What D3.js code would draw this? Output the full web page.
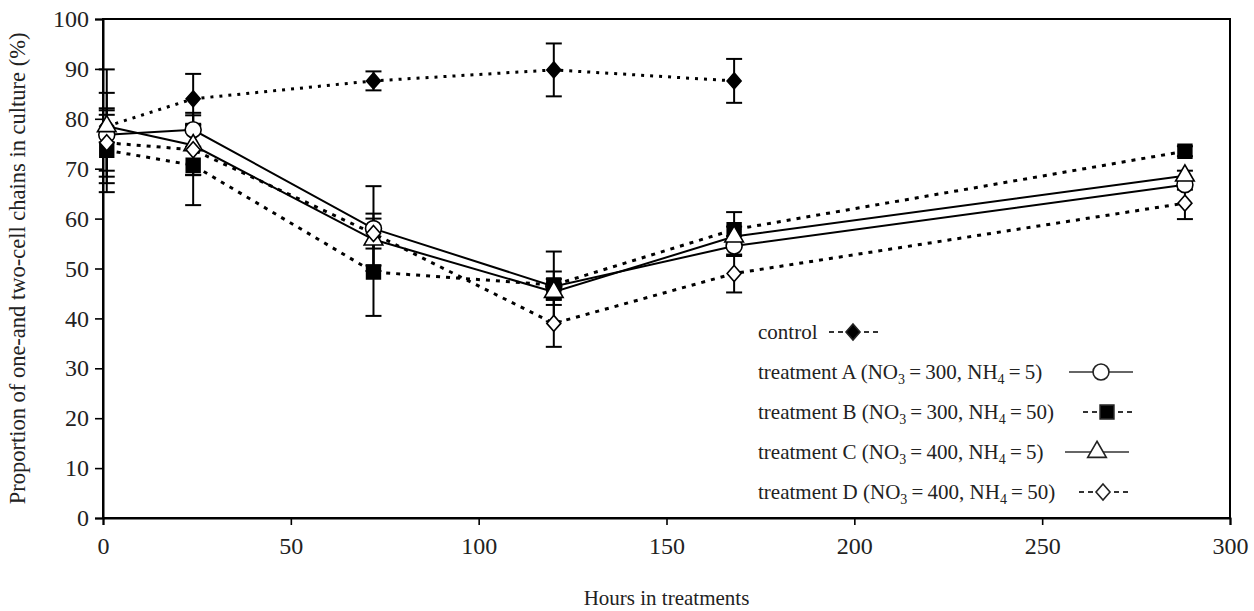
<!DOCTYPE html>
<html>
<head>
<meta charset="utf-8">
<script src="https://cdn.jsdelivr.net/npm/d3@7"></script>
<style>
  body { margin: 0; background: #fff; }
  svg { display: block; font-family: "Liberation Serif", "Times New Roman", serif; }
</style>
</head>
<body>
<svg id="svg"></svg>
<script>
// data
const hours = [1, 24, 72, 120, 168, 288]
const controlHours = [1, 24, 72, 120, 168]
const controlMean = [78.5, 84, 87.6, 89.8, 87.6]
const controlErr = [3.2, 5, 1.9, 5.3, 4.4]
const meanA = [76.8, 77.8, 58, 46.4, 54.5, 66.8]
const errA = [8.4, 3.4, 8.5, 7, 2, 1]
const meanB = [73.7, 70.7, 49.3, 46.7, 57.8, 73.5]
const errB = [8.4, 8, 8.8, 2.7, 3.5, 1]
const meanC = [78.5, 74.7, 55.8, 45.3, 56.4, 68.6]
const errC = [11.4, 6, 5.2, 2.6, 2, 1]
const meanD = [75.2, 73.8, 57, 39, 49, 63.1]
const errD = [5.6, 5, 3, 4.7, 3.8, 3.2]

const xTicks = [0, 50, 100, 150, 200, 250, 300]
const yTicks = [0, 10, 20, 30, 40, 50, 60, 70, 80, 90, 100]

const legendNames = ['control', 'treatment A', 'treatment B', 'treatment C', 'treatment D']
const legendNO3 = [null, '300', '300', '400', '400']
const legendNH4 = [null, '5', '50', '5', '50']

let w = 1254
let h = 611
let margin = {top: 19, right: 24, bottom: 93, left: 103}
let serif = '"Liberation Serif", "Times New Roman", serif'

let svg = d3.select('#svg').attr('width', w).attr('height', h)

let scaleX = d3.scaleLinear().domain([0, 300]).range([margin.left, w - margin.right])
let scaleY = d3.scaleLinear().domain([0, 100]).range([h - margin.bottom, margin.top])

// series table built from the arrays
const series = [
  {name: 'control', x: controlHours, y: controlMean, e: controlErr, sym: 'diamond', fill: '#000', dash: '3,6'},
  {name: 'A', x: hours, y: meanA, e: errA, sym: 'circle', fill: '#fff', dash: null},
  {name: 'B', x: hours, y: meanB, e: errB, sym: 'square', fill: '#000', dash: '4,6'},
  {name: 'C', x: hours, y: meanC, e: errC, sym: 'triangle', fill: '#fff', dash: null},
  {name: 'D', x: hours, y: meanD, e: errD, sym: 'diamond', fill: '#fff', dash: '4,6'}
]
series.forEach(s => { s.pts = s.x.map((hx, i) => ({x: hx, y: s.y[i], e: s.e[i]})) })

// frame
svg.append('rect')
  .attr('x', scaleX(0)).attr('y', scaleY(100))
  .attr('width', scaleX(300) - scaleX(0)).attr('height', scaleY(0) - scaleY(100))
  .attr('fill', 'none').attr('stroke', '#000').attr('stroke-width', 2)

let xAxis = svg.append('g')
  .attr('transform', `translate(0,${scaleY(0)})`)
  .call(d3.axisBottom(scaleX).tickValues(xTicks).tickSize(7).tickPadding(12))
let yAxis = svg.append('g')
  .attr('transform', `translate(${scaleX(0)},0)`)
  .call(d3.axisLeft(scaleY).tickValues(yTicks).tickSize(8).tickPadding(6))

;[xAxis, yAxis].forEach(ax => {
  ax.attr('font-family', serif)
  ax.select('.domain').attr('stroke-width', 2)
  ax.selectAll('.tick line').attr('stroke-width', 1.6)
  ax.selectAll('.tick text')
    .style('font-family', serif)
    .attr('font-size', 24).attr('fill', '#222')
})

svg.append('text')
  .attr('x', (scaleX(0) + scaleX(300)) / 2).attr('y', 605)
  .attr('text-anchor', 'middle').attr('font-size', 21).attr('fill', '#222')
  .style('font-family', serif)
  .text('Hours in treatments')

svg.append('text')
  .attr('transform', `translate(25,${(scaleY(0) + scaleY(100)) / 2}) rotate(-90)`)
  .attr('text-anchor', 'middle').attr('font-size', 22.5).attr('fill', '#222')
  .style('font-family', serif)
  .text('Proportion of one-and two-cell chains in culture (%)')

const symbolPath = (sym) => {
  if (sym === 'circle') return d3.symbol(d3.symbolCircle, 200)()
  if (sym === 'square') return d3.symbol(d3.symbolSquare, 190)()
  if (sym === 'triangle') return d3.symbol(d3.symbolTriangle, 150)()
  return 'M0,-8L7,0L0,8L-7,0Z'
}

let lineMkr = d3.line()
  .x(d => scaleX(d.x))
  .y(d => scaleY(d.y))

let plot = svg.append('g')

// lines
plot.selectAll('path.series')
  .data(series)
  .enter().append('path')
  .attr('class', 'series')
  .attr('d', d => lineMkr(d.pts))
  .attr('fill', 'none')
  .attr('stroke', '#000')
  .attr('stroke-width', d => d.dash ? 3 : 2)
  .attr('stroke-dasharray', d => d.dash)

// error bars
let cap = 8
series.forEach(s => {
  let g = plot.append('g').attr('stroke', '#000').attr('stroke-width', 2)
  g.selectAll('line.v').data(s.pts).enter().append('line')
    .attr('x1', d => scaleX(d.x)).attr('x2', d => scaleX(d.x))
    .attr('y1', d => scaleY(d.y + d.e)).attr('y2', d => scaleY(d.y - d.e))
  g.selectAll('line.t').data(s.pts).enter().append('line')
    .attr('x1', d => scaleX(d.x) - cap).attr('x2', d => scaleX(d.x) + cap)
    .attr('y1', d => scaleY(d.y + d.e)).attr('y2', d => scaleY(d.y + d.e))
  g.selectAll('line.b').data(s.pts).enter().append('line')
    .attr('x1', d => scaleX(d.x) - cap).attr('x2', d => scaleX(d.x) + cap)
    .attr('y1', d => scaleY(d.y - d.e)).attr('y2', d => scaleY(d.y - d.e))
})

// markers
series.forEach(s => {
  plot.selectAll(null).data(s.pts).enter().append('path')
    .attr('d', symbolPath(s.sym))
    .attr('transform', d => `translate(${scaleX(d.x)},${scaleY(d.y)})`)
    .attr('fill', s.fill)
    .attr('stroke', '#000')
    .attr('stroke-width', 1.6)
})

// legend
let legendX = 758
let legendY = [332, 372, 412, 452, 492]
let legendKeyX = [853, 1101, 1107, 1097, 1103]
let legend = svg.append('g').attr('font-size', 21).attr('fill', '#222').style('font-family', serif)

legendNames.forEach((name, i) => {
  let t = legend.append('text').attr('x', legendX).attr('y', legendY[i] + 7)
  t.append('tspan').text(name)
  if (legendNO3[i]) {
    t.append('tspan').text(' (NO')
    t.append('tspan').attr('font-size', 14).attr('dy', 5).text('3')
    t.append('tspan').attr('dy', -5).text('\u2009=\u2009' + legendNO3[i] + ', NH')
    t.append('tspan').attr('font-size', 14).attr('dy', 5).text('4')
    t.append('tspan').attr('dy', -5).text('\u2009=\u2009' + legendNH4[i] + ')')
  }
  let s = series[i]
  let cx = legendKeyX[i]
  let k = legend.append('g').attr('stroke', '#333')
  if (s.dash) {
    k.append('line').attr('x1', cx - 24).attr('x2', cx - 9).attr('y1', legendY[i]).attr('y2', legendY[i])
      .attr('stroke-width', 2).attr('stroke-dasharray', '5,4')
    k.append('line').attr('x1', cx + 11).attr('x2', cx + 26).attr('y1', legendY[i]).attr('y2', legendY[i])
      .attr('stroke-width', 2).attr('stroke-dasharray', '5,4')
  } else {
    k.append('line').attr('x1', cx - 32).attr('x2', cx + 32).attr('y1', legendY[i]).attr('y2', legendY[i])
      .attr('stroke-width', 1.3)
  }
  legend.append('path')
    .attr('d', symbolPath(s.sym))
    .attr('transform', `translate(${cx},${legendY[i]})`)
    .attr('fill', s.fill).attr('stroke', '#222').attr('stroke-width', 1.6)
})
</script>
</body>
</html>
